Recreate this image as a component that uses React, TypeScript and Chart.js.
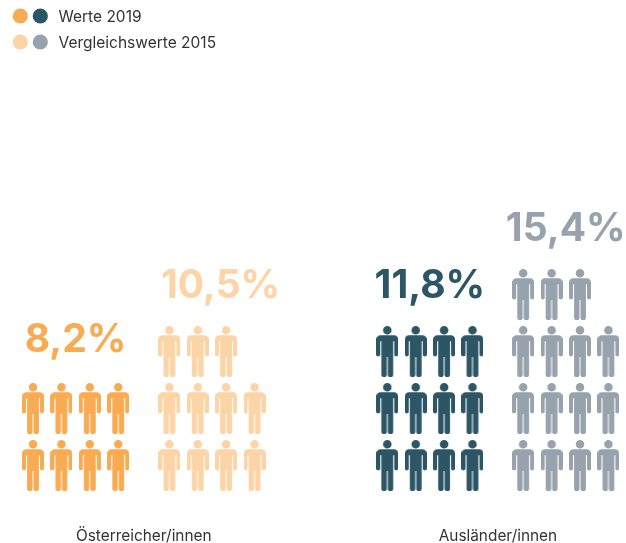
import React, { useEffect, useRef } from "react";
import Chart from "chart.js/auto";

// Share of people per group, in percent
const categories = ["Österreicher/innen", "Ausländer/innen"];
const values2019 = [8.2, 11.8];
const values2015 = [10.5, 15.4];

const label2019 = "Werte 2019";
const label2015 = "Vergleichswerte 2015";

const orange = "#F8AB50";
const orangeLight = "#FCD4A6";
const teal = "#2C5566";
const grey = "#97A2AC";
const textColor = "#333333";

const FIGURES_PER_ROW = 4;
const COL_PX = 28.4;
const ROW_PX = 57;
const FIRST_COL_PX = 33;
const FIRST_ROW_PX = 465.5;
const WIDTH = 626;
const HEIGHT = 543;
const AXIS_HEIGHT = 24;
const FONT_FAMILY = "Inter, 'Open Sans', sans-serif";

// Column where each block of figures starts
const blockStart = [0, 4.8, 12.475, 17.26];
const axisTicks = [3.9, 16.37];

// Draws one standing figure on its own canvas, for use as a point style
function personIcon(color: string): HTMLCanvasElement {
  const c = document.createElement("canvas");
  c.width = 22;
  c.height = 51;
  const g = c.getContext("2d")!;
  g.fillStyle = color;
  g.beginPath();
  g.arc(11, 4.3, 4.3, 0, Math.PI * 2);
  g.roundRect(0, 9.3, 22, 6, [4.2, 4.2, 0, 0]);
  g.roundRect(0, 15, 4, 15.6, [0, 0, 2, 2]);
  g.roundRect(18, 15, 4, 15.6, [0, 0, 2, 2]);
  g.rect(5.1, 15, 11.8, 16);
  g.roundRect(5.1, 30.5, 5.4, 20.5, [0, 0, 2.6, 2.6]);
  g.roundRect(11.5, 30.5, 5.4, 20.5, [0, 0, 2.6, 2.6]);
  g.fill();
  return c;
}

// One point per rounded percent, filled row by row from the bottom
function figurePoints(value: number, start: number) {
  const count = Math.round(value);
  const pts: { x: number; y: number }[] = [];
  for (let row = 0; row * FIGURES_PER_ROW < count; row++) {
    const inRow = Math.min(FIGURES_PER_ROW, count - row * FIGURES_PER_ROW);
    for (let col = 0; col < inRow; col++) pts.push({ x: start + col, y: row });
  }
  return pts;
}

const percent = (v: number) => v.toFixed(1).replace(".", ",") + "%";

const blocks = [
  { label: label2019, value: values2019[0], start: blockStart[0], color: orange, nudgeX: 0, nudgeY: 0 },
  { label: label2015, value: values2015[0], start: blockStart[1], color: orangeLight, nudgeX: 8.6, nudgeY: 3.5 },
  { label: label2019, value: values2019[1], start: blockStart[2], color: teal, nudgeX: 0, nudgeY: 3.5 },
  { label: label2015, value: values2015[1], start: blockStart[3], color: grey, nudgeX: 0, nudgeY: 3.5 },
];

// Big percentage above each block of figures
const valueLabels = {
  id: "valueLabels",
  afterDatasetsDraw(chart: any) {
    const { ctx, scales } = chart;
    ctx.save();
    ctx.font = `700 39px ${FONT_FAMILY}`;
    ctx.textAlign = "center";
    ctx.textBaseline = "alphabetic";
    blocks.forEach((b) => {
      const topRow = Math.ceil(Math.round(b.value) / FIGURES_PER_ROW) - 1;
      const x = scales.x.getPixelForValue(b.start + 1.5) + b.nudgeX;
      const y = scales.y.getPixelForValue(topRow + 1) + b.nudgeY;
      ctx.fillStyle = b.color;
      ctx.fillText(percent(b.value), x, y);
    });
    ctx.restore();
  },
};

// Two-dot key in the upper left corner
const dotKey = {
  id: "dotKey",
  afterDraw(chart: any) {
    const { ctx } = chart;
    const rows = [
      { text: label2019, colors: [orange, teal], y: 16 },
      { text: label2015, colors: [orangeLight, grey], y: 42 },
    ];
    ctx.save();
    ctx.font = `400 15.5px ${FONT_FAMILY}`;
    ctx.textBaseline = "middle";
    ctx.textAlign = "left";
    rows.forEach((r) => {
      r.colors.forEach((color, i) => {
        ctx.fillStyle = color;
        ctx.beginPath();
        ctx.arc(20.3 + i * 20, r.y, 7.6, 0, Math.PI * 2);
        ctx.fill();
      });
      ctx.fillStyle = textColor;
      ctx.fillText(r.text, 58.5, r.y + 1);
    });
    ctx.restore();
  },
};

export default function App() {
  const ref = useRef<HTMLCanvasElement>(null);

  useEffect(() => {
    const chart = new Chart(ref.current!, {
      type: "scatter",
      data: {
        datasets: blocks.map((b) => ({
          label: b.label,
          data: figurePoints(b.value, b.start),
          pointStyle: personIcon(b.color),
          backgroundColor: b.color,
        })),
      },
      options: {
        responsive: false,
        animation: false,
        layout: { padding: 0, autoPadding: false },
        plugins: { legend: { display: false }, tooltip: { enabled: false } },
        scales: {
          x: {
            type: "linear",
            min: -FIRST_COL_PX / COL_PX,
            max: (WIDTH - FIRST_COL_PX) / COL_PX,
            grid: { display: false, drawTicks: false },
            border: { display: false },
            afterBuildTicks: (scale: any) => {
              scale.ticks = axisTicks.map((value) => ({ value }));
            },
            afterFit: (scale: any) => {
              scale.height = AXIS_HEIGHT;
            },
            ticks: {
              autoSkip: false,
              maxRotation: 0,
              padding: 8,
              color: textColor,
              font: { family: FONT_FAMILY, size: 15.4, weight: "400" },
              callback: (v: any) => categories[axisTicks.indexOf(v)] ?? "",
            },
          },
          y: {
            display: false,
            min: (FIRST_ROW_PX - (HEIGHT - AXIS_HEIGHT)) / ROW_PX,
            max: FIRST_ROW_PX / ROW_PX,
          },
        },
      },
      plugins: [valueLabels, dotKey],
    } as any);
    return () => chart.destroy();
  }, []);

  return (
    <div style={{ position: "absolute", left: 0, top: 0, width: WIDTH, height: HEIGHT }}>
      <canvas ref={ref} width={WIDTH} height={HEIGHT} style={{ display: "block" }} />
    </div>
  );
}
